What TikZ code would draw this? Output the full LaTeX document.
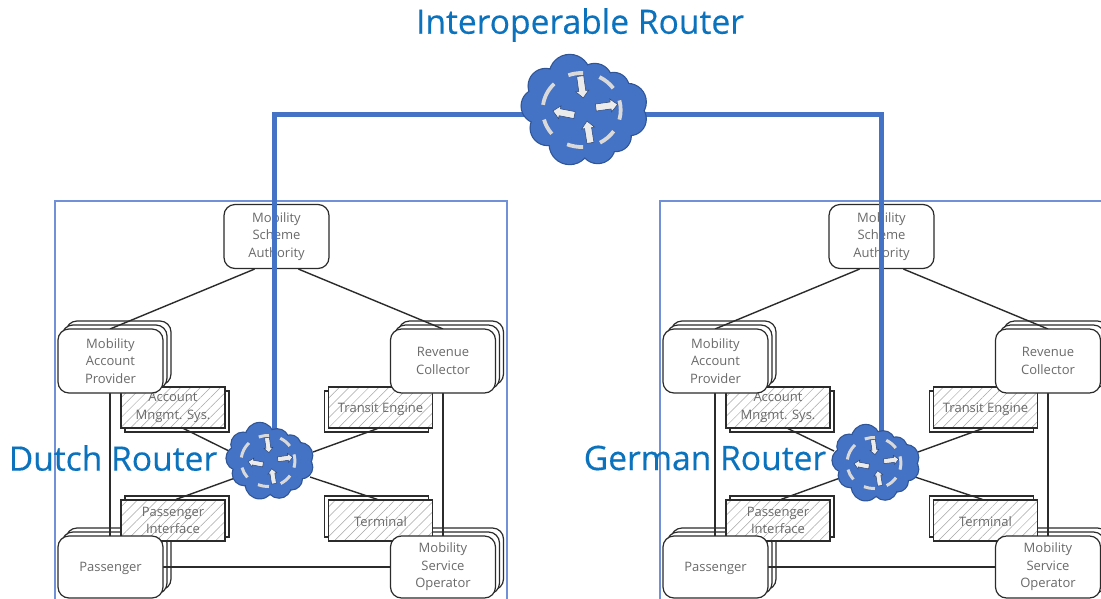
\documentclass[tikz,border=0pt]{standalone}
\usepackage{fontspec}
\setmainfont{Open Sans}
\newfontfamily\titlefont[FakeBold=0.35]{Open Sans}
\usetikzlibrary{calc,patterns.meta}
\definecolor{linkblue}{HTML}{4472C4}
\definecolor{framec}{HTML}{7090D8}
\definecolor{titlec}{HTML}{0B72BD}
\definecolor{textc}{HTML}{6A6A6A}
\definecolor{edgec}{HTML}{2B2B2B}
\definecolor{cloudedge}{HTML}{2F5597}
\tikzset{
 x=1pt,y=-1pt,
 roundbox/.style={draw=edgec,line width=1.2pt,fill=white,rounded corners=11pt,minimum width=105pt,minimum height=64pt,inner sep=0pt,align=center,text=textc,font=\fontsize{13}{17.6}\selectfont,execute at begin node={\rule{0pt}{12.5pt}}},
 hatchback/.style={draw=edgec,line width=1.2pt,fill=white,minimum width=104pt,minimum height=41pt,inner sep=0pt},
 hatchbox/.style={hatchback,preaction={fill=white},pattern={Lines[angle=45,distance=7pt,line width=.5pt]},pattern color=black!35,align=center,text=textc,font=\fontsize{13}{17.6}\selectfont,execute at begin node={\rule{0pt}{13pt}}},
 conn/.style={draw=edgec,line width=1.4pt},
 frame/.style={draw=framec,line width=1.4pt},
 link/.style={draw=linkblue,line width=5pt,line join=miter},
 cloudanchor/.style={inner sep=0pt},
 title/.style={text=titlec,inner sep=0pt,font=\titlefont\fontsize{#1}{#1}\selectfont},
 ring/.style={draw=white!85!black,line width=#1,line cap=butt},
 garrow/.style={draw=linkblue!60!black,line width=.5pt,fill=white!92!black},
}
\newcommand\blockarrow[3]{\draw[garrow,shift={(#1,#2)},rotate=#3] (-11,-3.5)--(4,-3.5)--(4,-6.5)--(11,0)--(4,6.5)--(4,3.5)--(-11,3.5)--cycle;}
\newcommand\ringarc[3]{\draw[ring=#3] (#1:39 and 37) arc[start angle=#1,end angle=#2,x radius=39,y radius=37];}
\newcommand\lumps[1]{%
 \path[#1] (-12,-35) circle[radius=20] (-36,-24) circle[radius=17] (13,-29) circle[radius=17]
 (32,-22) circle[radius=15] (46,-8) circle[radius=18] (48,9) circle[radius=16]
 (34,26) circle[radius=15] (16,36) circle[radius=17] (-12,34) circle[radius=20]
 (-34,18) circle[radius=17] (-43,-4) circle[radius=17] (0,0) ellipse[x radius=44,y radius=36];}
\newcommand\routerguts[4]{%
 \begin{scope}[shift={(#1,#2)},scale=#3]
  \lumps{draw=cloudedge,line width=2.4pt}
  \lumps{fill=linkblue}
  \ringarc{-63}{-36}{#4}
  \ringarc{-15}{15}{#4}
  \ringarc{35}{62}{#4}
  \ringarc{88}{112}{#4}
  \ringarc{140}{165}{#4}
  \ringarc{188}{225}{#4}
  \ringarc{250}{272}{#4}
  \blockarrow{0}{-23}{-82}
  \blockarrow{25}{-4}{8}
  \blockarrow{-18}{3}{169}
  \blockarrow{7}{22}{99}
 \end{scope}}
\newcommand\regionbody[2]{%
 \begin{scope}[shift={(#2,0)}]
  \node[roundbox] (#1msa) at (276.5,236.5) {Mobility\\Scheme\\Authority};
  % stacked back layers
  \node[roundbox] (#1mapc) at (118.5,353) {};
  \node[roundbox] (#1mapb) at (114.5,357) {};
  \node[roundbox] (#1rcc) at (451,353) {};
  \node[roundbox] (#1rcb) at (447,357) {};
  \node[roundbox,minimum height=62pt] (#1pac) at (118.5,559) {};
  \node[roundbox,minimum height=62pt] (#1pab) at (114.5,563) {};
  \node[roundbox,minimum height=62pt] (#1moc) at (451,559) {};
  \node[roundbox,minimum height=62pt] (#1mob) at (447,563) {};
  % hatched components
  \node[hatchback] (#1amb) at (177,411.5) {};
  \node[hatchbox] (#1am) at (173,407.5) {Account\\Mngmt. Sys.};
  \node[hatchback] (#1teb) at (376.5,411.5) {};
  \node[hatchbox] (#1te) at (380.5,407.5) {Transit Engine};
  \node[hatchback] (#1pib) at (177,516.5) {};
  \node[hatchbox] (#1pi) at (173,520.5) {Passenger\\Interface};
  \node[hatchback] (#1tmb) at (376.5,516.5) {};
  \node[hatchbox] (#1tm) at (380.5,520.5) {Terminal};
  \coordinate (#1mapt) at (110,329);
  \coordinate (#1rct) at (443,329);
  \coordinate (#1pat) at (110,536);
  \coordinate (#1mot) at (443,536);
  \coordinate (#1mapbt) at (110,393);
  \coordinate (#1rcbt) at (443,393);
  \draw[conn] ($(#1msa.south)+(-22,0)$) -- (#1mapt);
  \draw[conn] ($(#1msa.south)+(22,0)$) -- (#1rct);
  \draw[conn] (#1mapbt) -- (#1pat);
  \draw[conn] (#1rcbt) -- (#1mot);
  \draw[conn] (163,567) -- (391,567);
  \draw[conn] ($(#1am.south)+(10,0)$) -- (229,451);
  \draw[conn] ($(#1te.south)+(-3,0)$) -- (313,452);
  \draw[conn] ($(#1pi.north)+(3,0)$) -- (235,478);
  \draw[conn] ($(#1tm.north)+(-3,0)$) -- (310,477);
  % front faces
  \node[roundbox] (#1map) at (110.5,361) {Mobility\\Account\\Provider};
  \node[roundbox] (#1rc) at (443,361) {Revenue\\Collector};
  \node[roundbox,minimum height=62pt] (#1pa) at (110.5,567) {Passenger};
  \node[roundbox,minimum height=62pt] (#1mo) at (443,567) {Mobility\\Service\\Operator};
 \end{scope}}
\begin{document}
\begin{tikzpicture}
\useasboundingbox (0,0) rectangle (1101,598);
\clip (0,0) rectangle (1101,598);
\fill[white] (0,0) rectangle (1101,598);
\node[title=33.6] (ttop) at (580,25) {Interoperable Router};
\draw[frame] (55,201) rectangle (507,620);
\draw[frame] (660,201) rectangle (1130,620);
\regionbody{d}{0}
\regionbody{g}{605}
% router anchors and inter-router links
\node[cloudanchor,minimum width=120pt,minimum height=100pt] (top) at (584,110) {};
\node[cloudanchor,minimum width=60pt,minimum height=60pt] (dr) at (274,461) {};
\node[cloudanchor,minimum width=60pt,minimum height=60pt] (gr) at (881,463) {};
\coordinate (dj) at (274,114);
\coordinate (gj) at (881,114);
\draw[link] (top.west |- dj) -- (dj) -- (dr.north);
\draw[link] (top.east |- gj) -- (gj) -- (gr.north);
\routerguts{581.7}{110}{1}{3.8pt}
\routerguts{268}{461}{.69}{3pt}
\routerguts{874}{463}{.69}{3pt}
\node[title=33.6] (dl) at (113,458) {Dutch Router};
\node[title=33.6] (gl) at (705,458) {German Router};
\end{tikzpicture}
\end{document}
